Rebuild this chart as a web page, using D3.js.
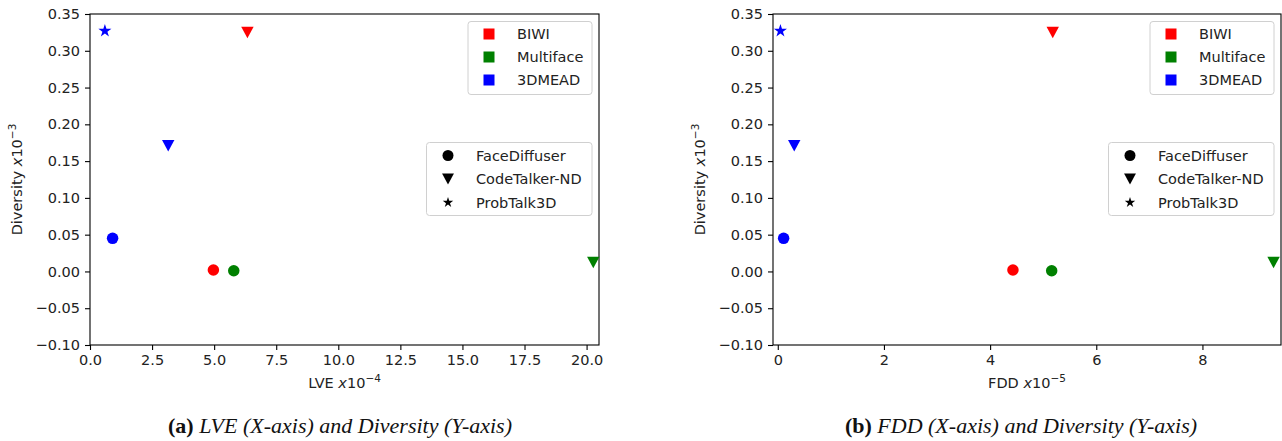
<!DOCTYPE html>
<html>
<head>
<meta charset="utf-8">
<script src="https://cdn.jsdelivr.net/npm/d3@7"></script>
<style>
  html, body { margin: 0; padding: 0; background: #fff; }
  svg { display: block; }
  text { font-family: "DejaVu Sans", sans-serif; }
</style>
</head>
<body>
<svg id="chart" width="1282" height="441"></svg>
<script>
// ---- data ----
const datasets = ["BIWI", "Multiface", "3DMEAD"];
const datasetColors = ["#ff0000", "#008000", "#0000ff"];
const models = ["FaceDiffuser", "CodeTalker-ND", "ProbTalk3D"];
// rows: dataset, cols: model (null = not plotted)
const lveValues = [
  [4.97, 6.34, null],
  [5.79, 20.27, null],
  [0.91, 3.15, 0.60]
];
const fddValues = [
  [4.43, 5.18, null],
  [5.16, 9.34, null],
  [0.11, 0.31, 0.05]
];
const diversityValues = [
  [0.002, 0.325, null],
  [0.001, 0.012, null],
  [0.045, 0.171, 0.327]
];
const yTicks = [-0.10, -0.05, 0.00, 0.05, 0.10, 0.15, 0.20, 0.25, 0.30, 0.35];
const lveTicks = [0, 2.5, 5, 7.5, 10, 12.5, 15, 17.5, 20];
const fddTicks = [0, 2, 4, 6, 8];

const svg = d3.select("#chart");
const FS = 14.5;

function markerPath(model, size) {
  if (model === 0) return d3.symbol(d3.symbolCircle, Math.PI * size * size / 4)();
  if (model === 1) {
    const w = size * 1.08, h = size;
    return `M0,${h / 2}L${-w / 2},${-h / 2}L${w / 2},${-h / 2}Z`;
  }
  const r = size * 0.55;
  return d3.symbol(d3.symbolStar, r * r / 0.8908130915292852)();
}

function panel(opts) {
  const { x0, x1, y0, y1, xDomain, xTicks, xFmt, xValues, xName, xExp, yLabelX, caption, capLetter, capX } = opts;
  const g = svg.append("g");
  const x = d3.scaleLinear().domain(xDomain).range([x0, x1]);
  const y = d3.scaleLinear().domain([-0.10, 0.35]).range([y1, y0]);

  // axes
  const xAxis = d3.axisBottom(x).tickValues(xTicks).tickFormat(xFmt).tickSize(5).tickPadding(5);
  const yAxis = d3.axisLeft(y).tickValues(yTicks)
    .tickFormat(d => (d < -1e-9 ? "\u2212" : "") + Math.abs(d).toFixed(2)).tickSize(5).tickPadding(5);

  const gx = g.append("g").attr("transform", `translate(0,${y1})`).call(xAxis);
  const gy = g.append("g").attr("transform", `translate(${x0},0)`).call(yAxis);
  [gx, gy].forEach(a => {
    a.select(".domain").remove();
    a.selectAll(".tick line").attr("stroke", "#000").attr("stroke-width", 1.1);
    a.selectAll(".tick text").attr("fill", "#222").style("font-size", FS + "px")
      .style("font-family", "'DejaVu Sans', sans-serif");
  });

  // frame
  g.append("rect").attr("x", x0).attr("y", y0).attr("width", x1 - x0).attr("height", y1 - y0)
    .attr("fill", "none").attr("stroke", "#000").attr("stroke-width", 1.1);

  // points
  const pts = [];
  datasets.forEach((ds, i) => models.forEach((m, j) => {
    if (xValues[i][j] != null) pts.push({ i, j, xv: xValues[i][j], yv: diversityValues[i][j] });
  }));
  g.selectAll("path.pt").data(pts).join("path").attr("class", "pt")
    .attr("d", d => markerPath(d.j, d.j === 2 ? 12.5 : 11.5))
    .attr("transform", d => `translate(${x(d.xv)},${y(d.yv)})`)
    .attr("fill", d => datasetColors[d.i]);

  // x label
  const xl = g.append("text").attr("x", (x0 + x1) / 2).attr("y", 388)
    .attr("text-anchor", "middle").style("font-size", FS + "px").attr("fill", "#222");
  xl.append("tspan").text(xName + " ");
  xl.append("tspan").style("font-style", "italic").text("x");
  xl.append("tspan").text("10");
  xl.append("tspan").attr("dy", -6).style("font-size", "10.5px").text("\u2212" + xExp);

  // y label
  const yl = g.append("text").attr("transform", `translate(${yLabelX},${(y0 + y1) / 2}) rotate(-90)`)
    .attr("text-anchor", "middle").style("font-size", FS + "px").attr("fill", "#222");
  yl.append("tspan").text("Diversity ");
  yl.append("tspan").style("font-style", "italic").text("x");
  yl.append("tspan").text("10");
  yl.append("tspan").attr("dy", -6).style("font-size", "10.5px").text("\u22123");

  // legend 1: datasets
  const lw1 = 124, lh1 = 73;
  const l1 = g.append("g").attr("transform", `translate(${x1 - 7 - lw1},21.5)`);
  l1.append("rect").attr("width", lw1).attr("height", lh1).attr("rx", 3)
    .attr("fill", "#fff").attr("fill-opacity", 0.8).attr("stroke", "#d0d0d0").attr("stroke-width", 1);
  datasets.forEach((ds, i) => {
    const cy = 12.5 + i * 23;
    l1.append("rect").attr("x", 21 - 5.5).attr("y", cy - 5.5).attr("width", 11).attr("height", 11)
      .attr("fill", datasetColors[i]);
    l1.append("text").attr("x", 49).attr("y", cy).attr("dy", "0.36em")
      .style("font-size", FS + "px").attr("fill", "#222").text(ds);
  });

  // legend 2: models
  const lw2 = 165.5, lh2 = 73;
  const l2 = g.append("g").attr("transform", `translate(${x1 - 7 - lw2},142.5)`);
  l2.append("rect").attr("width", lw2).attr("height", lh2).attr("rx", 3)
    .attr("fill", "#fff").attr("fill-opacity", 0.8).attr("stroke", "#d0d0d0").attr("stroke-width", 1);
  models.forEach((m, j) => {
    const cy = 13 + j * 23.5;
    l2.append("path").attr("d", markerPath(j, j === 2 ? 10 : 11))
      .attr("transform", `translate(21.5,${cy})`).attr("fill", "#000");
    l2.append("text").attr("x", 49.5).attr("y", cy).attr("dy", "0.36em")
      .style("font-size", FS + "px").attr("fill", "#222").text(m);
  });

  // caption
  const cap = svg.append("text").attr("x", capX).attr("y", 433).attr("text-anchor", "middle")
    .style("font-family", "'Liberation Serif', 'Times New Roman', serif").style("font-size", "22px")
    .attr("fill", "#111");
  cap.append("tspan").style("font-weight", "bold").style("font-family", "'Liberation Serif', serif").text(capLetter + " ");
  cap.append("tspan").style("font-style", "italic").style("font-family", "'Liberation Serif', serif").text(caption);
}

panel({
  x0: 90, x1: 599, y0: 14, y1: 345,
  xDomain: [0, 20.5], xTicks: lveTicks, xFmt: d3.format(".1f"),
  xValues: lveValues, xName: "LVE", xExp: "4", yLabelX: 22,
  capLetter: "(a)", caption: "LVE (X-axis) and Diversity (Y-axis)", capX: 340
});
panel({
  x0: 773, x1: 1281, y0: 14, y1: 345,
  xDomain: [-0.09, 9.48], xTicks: fddTicks, xFmt: d3.format("d"),
  xValues: fddValues, xName: "FDD", xExp: "5", yLabelX: 705,
  capLetter: "(b)", caption: "FDD (X-axis) and Diversity (Y-axis)", capX: 1021
});
</script>
</body>
</html>
